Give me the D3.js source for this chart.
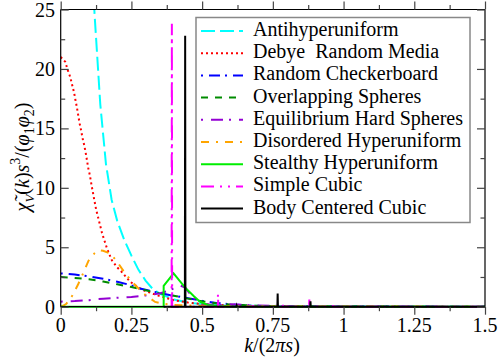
<!DOCTYPE html>
<html><head><meta charset="utf-8">
<script src="https://cdn.jsdelivr.net/npm/d3@7"></script>
<style>
body{margin:0;background:#fff;}
svg{display:block;}
</style></head>
<body><svg id="c" width="498" height="357"></svg>
<script>
const seriesNames = ["Antihyperuniform","Debye  Random Media","Random Checkerboard","Overlapping Spheres","Equilibrium Hard Spheres","Disordered Hyperuniform","Stealthy Hyperuniform","Simple Cubic","Body Centered Cubic"];
const seriesColors = ["#00ffff","#ff0000","#0000ff","#008b00","#9400d3","#ffa500","#00ee00","#ff00ff","#000000"];
const seriesDash = ["14,5","2,3","2,6,11,5","7,7","2,8,12,6","8,7,2,7",null,"13,6,2,6,2,6",null];

const xTicks = [0,0.25,0.5,0.75,1,1.25,1.5];
const xTickLabels = ["0","0.25","0.5","0.75","1","1.25","1.5"];
const yTicks = [0,5,10,15,20,25];
const yTickLabels = ["0","5","10","15","20","25"];

// [k/(2πs), value]
const antihyperuniform = [[0.11,29],[0.12,24.5],[0.14,17],[0.16,12],[0.18,9],[0.2,7.2],[0.225,5.6],[0.25,4.3],[0.275,3.1],[0.3,2.2],[0.325,1.5],[0.35,1.1],[0.4,0.6],[0.45,0.35],[0.5,0.2],[0.6,0.1],[0.75,0.05],[1.0,0.02],[1.5,0]];
const debye = [[0,21],[0.016,20.6],[0.025,19.9],[0.034,19.3],[0.041,18.6],[0.047,18.05],[0.052,17.4],[0.057,16.8],[0.062,16.1],[0.067,15.4],[0.0725,14.8],[0.077,14.2],[0.083,13.6],[0.088,13],[0.093,12.3],[0.097,11.7],[0.103,11.07],[0.11,10.1],[0.125,8.2],[0.146,6.2],[0.165,4.8],[0.181,3.9],[0.2,3.3],[0.213,3.0],[0.246,2.09],[0.27,1.7],[0.292,1.39],[0.34,0.97],[0.4,0.55],[0.45,0.35],[0.5,0.22],[0.6,0.1],[0.7,0.05],[1.0,0.01],[1.5,0]];
const checkerboard = [[0,2.8],[0.05,2.7],[0.1,2.55],[0.15,2.35],[0.186,2.17],[0.2,2.1],[0.25,1.8],[0.28,1.53],[0.3,1.42],[0.35,1.15],[0.388,0.97],[0.45,0.72],[0.5,0.5],[0.55,0.32],[0.6,0.2],[0.65,0.12],[0.7,0.06],[0.8,0.02],[1.0,0.01],[1.5,0]];
const overlapping = [[0,2.5],[0.05,2.42],[0.1,2.3],[0.15,2.12],[0.186,1.95],[0.2,1.88],[0.25,1.65],[0.28,1.5],[0.3,1.38],[0.35,1.12],[0.39,0.97],[0.45,0.68],[0.5,0.45],[0.55,0.3],[0.6,0.18],[0.7,0.07],[0.8,0.03],[1.0,0.01],[1.5,0]];
const hardSpheres = [[0,0.42],[0.05,0.47],[0.1,0.55],[0.128,0.63],[0.15,0.66],[0.2,0.75],[0.25,0.82],[0.28,0.88],[0.3,0.95],[0.35,1.12],[0.376,1.3],[0.4,1.55],[0.423,1.78],[0.44,1.6],[0.46,1.0],[0.48,0.5],[0.5,0.25],[0.55,0.12],[0.6,0.2],[0.65,0.15],[0.7,0.1],[0.8,0.05],[1.0,0.02],[1.5,0]];
const disorderedHU = [[0,0],[0.01,0.1],[0.02,0.25],[0.04,0.9],[0.06,1.8],[0.08,2.85],[0.098,3.85],[0.12,4.5],[0.134,4.76],[0.15,4.7],[0.175,4.48],[0.2,3.77],[0.228,2.79],[0.258,1.95],[0.293,1.1],[0.334,0.4],[0.36,0.25],[0.4,0.15],[0.45,0.1],[0.5,0.08],[0.6,0.05],[0.8,0.02],[1.5,0]];
const stealthyHU = [[0,0],[0.364,0],[0.364,1.75],[0.399,2.8],[0.44,1.6],[0.47,0.9],[0.493,0.4],[0.52,0.15],[0.56,0.05],[0.6,0],[1.5,0]];
const simpleCubic = [[0.39,0],[0.392,0],[0.393,23.8],[0.394,0],[0.555,0],[0.556,1.05],[0.557,0],[0.679,0],[0.68,0.12],[0.681,0],[0.785,0],[0.786,0.15],[0.787,0],[0.878,0],[0.879,0.6],[0.88,0],[0.962,0],[0.963,0.12],[0.964,0],[1.5,0]];
const bcc = [[0.364,0],[0.439,0],[0.44,22.8],[0.441,0],[0.621,0],[0.622,0.08],[0.623,0],[0.766,0],[0.767,1.1],[0.768,0],[0.882,0],[0.883,0.45],[0.884,0],[1.5,0]];
const seriesData = [antihyperuniform,debye,checkerboard,overlapping,hardSpheres,disorderedHU,stealthyHU,simpleCubic,bcc];

const FONT = "Times New Roman";
const svg = d3.select("#c");
const L=60.7, R=485, T=9.5, B=306.7;
const x = d3.scaleLinear().domain([0,1.5]).range([L,R]);
const y = d3.scaleLinear().domain([0,25]).range([B,T]);

svg.append("defs").append("clipPath").attr("id","clip")
  .append("rect").attr("x",L).attr("y",T).attr("width",R-L).attr("height",B-T+2);

const line = d3.line().x(d=>x(d[0])).y(d=>y(d[1]));
const g = svg.append("g").attr("clip-path","url(#clip)");
seriesData.forEach((data,i)=>{
  g.append("path").attr("d",line(data)).attr("fill","none")
    .attr("stroke",seriesColors[i]).attr("stroke-width",2)
    .attr("stroke-dasharray",seriesDash[i]);
});

const xMinor = d3.range(0,1.5001,0.125);
const yMinor = d3.range(0,25.001,2.5);
const axB = svg.append("g").attr("transform",`translate(0,${B})`)
  .call(d3.axisBottom(x).tickValues(xMinor).tickSize(8).tickFormat(""));
const axT = svg.append("g").attr("transform",`translate(0,${T})`)
  .call(d3.axisTop(x).tickValues(xMinor).tickSize(8).tickFormat(""));
const axL = svg.append("g").attr("transform",`translate(${L},0)`)
  .call(d3.axisRight(y).tickValues(yMinor).tickSize(8).tickFormat(""));
const axR = svg.append("g").attr("transform",`translate(${R},0)`)
  .call(d3.axisLeft(y).tickValues(yMinor).tickSize(8).tickFormat(""));
[axB,axT].forEach(a=>a.selectAll(".tick line").attr("y2",(d)=>{
  const maj = Math.abs(d/0.25-Math.round(d/0.25))<1e-6;
  const s = a===axB?1:-1; return s*(maj?8:4.5);}));
[axL,axR].forEach(a=>a.selectAll(".tick line").attr("x2",(d)=>{
  const maj = d%5===0; const s = a===axL?1:-1; return s*(maj?8:4.5);}));
[axB,axT,axL,axR].forEach(a=>{
  a.attr("font-family",null).attr("font-size",null);
  a.select(".domain").attr("stroke","#000").attr("stroke-width",1.2);
  a.selectAll(".tick line").attr("stroke","#444").attr("stroke-width",1.2);
});
axB.select(".domain").attr("d",`M${L},0H${R}`);
axT.select(".domain").attr("d",`M${L},0H${R}`);
axL.select(".domain").attr("d",`M0,${T}V${B}`);
axR.select(".domain").attr("d",`M0,${T}V${B}`);

svg.append("g").selectAll("text").data(xTicks).join("text")
  .attr("font-family",FONT)
  .attr("x",d=>x(d)).attr("y",332).attr("text-anchor","middle")
  .attr("font-size",20).text((d,i)=>xTickLabels[i]);
svg.append("g").selectAll("text").data(yTicks).join("text")
  .attr("font-family",FONT)
  .attr("x",55).attr("y",d=>y(d)+7).attr("text-anchor","end")
  .attr("font-size",20).text((d,i)=>yTickLabels[i]);

const xt = svg.append("text").attr("font-family",FONT).attr("x",272).attr("y",352).attr("text-anchor","middle").attr("font-size",20);
xt.append("tspan").attr("font-style","italic").text("k");
xt.append("tspan").text("/(2");
xt.append("tspan").attr("font-style","italic").text("πs");
xt.append("tspan").text(")");

const yt = svg.append("text").attr("font-family",FONT).attr("transform","translate(29,157) rotate(-90)").attr("text-anchor","middle").attr("font-size",20);
yt.append("tspan").attr("font-style","italic").text("χ\u0303");
yt.append("tspan").attr("font-size",13).attr("font-style","italic").attr("dy",5).text("V");
yt.append("tspan").attr("dy",-5).text("(");
yt.append("tspan").attr("font-style","italic").text("k");
yt.append("tspan").text(")");
yt.append("tspan").attr("font-style","italic").text("s");
yt.append("tspan").attr("font-size",14).attr("dy",-9).text("3");
yt.append("tspan").attr("dy",9).text("/(");
yt.append("tspan").attr("font-style","italic").text("φ");
yt.append("tspan").attr("font-size",14).attr("dy",5).text("1");
yt.append("tspan").attr("font-style","italic").attr("dy",-5).text("φ");
yt.append("tspan").attr("font-size",14).attr("dy",5).text("2");
yt.append("tspan").attr("dy",-5).text(")");

const lg = svg.append("g");
lg.append("rect").attr("x",196).attr("y",17.5).attr("width",274).attr("height",205)
  .attr("fill","#fff").attr("stroke","#888").attr("stroke-width",1.5);
seriesNames.forEach((name,i)=>{
  const yy = 31 + i*22.2;
  lg.append("line").attr("x1",201).attr("x2",243).attr("y1",yy).attr("y2",yy)
    .attr("stroke",seriesColors[i]).attr("stroke-width",2).attr("stroke-dasharray",seriesDash[i]);
  lg.append("text").attr("font-family",FONT).attr("x",253).attr("y",36+i*22.2).attr("font-size",20)
    .style("white-space","pre").text(name);
});
</script></body></html>
